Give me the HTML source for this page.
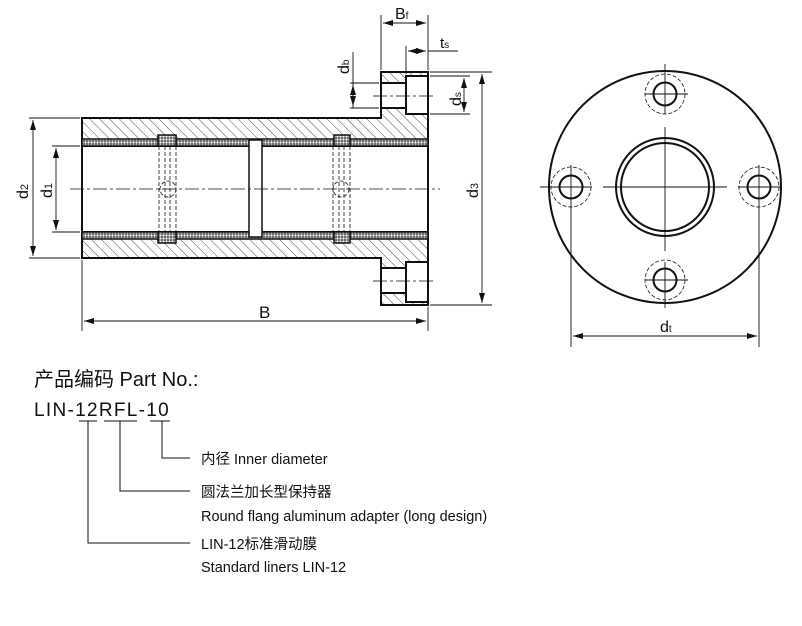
<!DOCTYPE html>
<html><head><meta charset="utf-8"><style>
html,body{margin:0;padding:0;background:#fff;width:802px;height:626px;overflow:hidden}
svg{position:absolute;left:0;top:0}
.t{font-family:"Liberation Sans","Noto Sans CJK SC",sans-serif;fill:#111}
</style></head><body>
<svg width="802" height="626" viewBox="0 0 802 626">
<defs>
<pattern id="h" width="7" height="7" patternUnits="userSpaceOnUse" patternTransform="rotate(-45)">
<line x1="0" y1="0" x2="0" y2="7" stroke="#222" stroke-width="0.8"/></pattern>
<pattern id="d" width="3" height="3" patternUnits="userSpaceOnUse">
<rect width="3" height="3" fill="#555"/><circle cx="1.5" cy="1.5" r="1.1" fill="#fff"/></pattern>
<marker id="a" markerWidth="10" markerHeight="6" refX="10" refY="3" orient="auto-start-reverse" markerUnits="userSpaceOnUse"><path d="M0,0 L10,3 L0,6 z" fill="#111"/></marker>
</defs>
<g stroke="#111" fill="none">
<path d="M82,118 H381 V72 H428 V305 H381 V258 H82 Z" fill="url(#h)" stroke-width="2"/>
<rect x="82" y="146" width="346" height="86" fill="#fff" stroke-width="2"/>
<rect x="82" y="139" width="346" height="7" fill="url(#d)" stroke-width="1.5"/>
<rect x="82" y="232" width="346" height="7" fill="url(#d)" stroke-width="1.5"/>
<rect x="158" y="135" width="18" height="11" fill="url(#d)" stroke-width="1.5"/>
<rect x="334" y="135" width="16" height="11" fill="url(#d)" stroke-width="1.5"/>
<rect x="158" y="232" width="18" height="11" fill="url(#d)" stroke-width="1.5"/>
<rect x="334" y="232" width="16" height="11" fill="url(#d)" stroke-width="1.5"/>
<rect x="249" y="140" width="13" height="97" fill="#fff" stroke-width="1.5"/>
<rect x="406" y="76" width="22" height="38" fill="#fff" stroke-width="2"/>
<rect x="381" y="83" width="25" height="25" fill="#fff" stroke-width="2"/>
<rect x="406" y="262" width="22" height="40" fill="#fff" stroke-width="2"/>
<rect x="381" y="268" width="25" height="25" fill="#fff" stroke-width="2"/>
<line x1="381" y1="72" x2="428" y2="72" stroke-width="2"/>
<g stroke-width="0.8" stroke-dasharray="14,3,3,3">
<line x1="70" y1="189" x2="440" y2="189"/>
<line x1="373" y1="96" x2="436" y2="96"/>
<line x1="373" y1="281" x2="436" y2="281"/>
</g>
<g stroke-width="0.8" stroke-dasharray="4,2">
<line x1="159" y1="146" x2="159" y2="232"/><line x1="165" y1="146" x2="165" y2="232"/>
<line x1="170" y1="146" x2="170" y2="232"/><line x1="176" y1="146" x2="176" y2="232"/>
<line x1="333" y1="146" x2="333" y2="232"/><line x1="339" y1="146" x2="339" y2="232"/>
<line x1="344" y1="146" x2="344" y2="232"/><line x1="350" y1="146" x2="350" y2="232"/>
<circle cx="168" cy="189" r="8"/><circle cx="341" cy="189" r="8"/>
</g>
<g stroke-width="0.9">
<line x1="29" y1="118" x2="80" y2="118"/><line x1="29" y1="258" x2="80" y2="258"/>
<line x1="33" y1="120" x2="33" y2="256" marker-start="url(#a)" marker-end="url(#a)"/>
<line x1="52" y1="146" x2="80" y2="146"/><line x1="52" y1="232" x2="80" y2="232"/>
<line x1="56" y1="148" x2="56" y2="230" marker-start="url(#a)" marker-end="url(#a)"/>
<line x1="430" y1="72" x2="492" y2="72"/><line x1="430" y1="305" x2="492" y2="305"/>
<line x1="482" y1="74" x2="482" y2="303" marker-start="url(#a)" marker-end="url(#a)"/>
<line x1="82" y1="260" x2="82" y2="331"/><line x1="428" y1="307" x2="428" y2="331"/>
<line x1="84" y1="321" x2="426" y2="321" marker-start="url(#a)" marker-end="url(#a)"/>
<line x1="381" y1="15" x2="381" y2="70"/><line x1="428" y1="15" x2="428" y2="70"/>
<line x1="383" y1="23" x2="426" y2="23" marker-start="url(#a)" marker-end="url(#a)"/>
<line x1="406" y1="46" x2="406" y2="74"/>
<line x1="408" y1="51" x2="426" y2="51" marker-start="url(#a)" marker-end="url(#a)"/>
<line x1="428" y1="51" x2="458" y2="51"/>
<line x1="350" y1="83" x2="379" y2="83"/><line x1="350" y1="108" x2="379" y2="108"/>
<line x1="353" y1="52" x2="353" y2="108"/>
<line x1="353" y1="85" x2="353" y2="106" marker-start="url(#a)" marker-end="url(#a)"/>
<line x1="430" y1="76" x2="470" y2="76"/><line x1="430" y1="114" x2="470" y2="114"/>
<line x1="464" y1="78" x2="464" y2="112" marker-start="url(#a)" marker-end="url(#a)"/>
</g>
<circle cx="665" cy="187" r="116" stroke-width="2"/>
<circle cx="665" cy="187" r="49" stroke-width="2"/>
<circle cx="665" cy="187" r="44" stroke-width="2"/>
<g stroke-width="2">
<circle cx="665" cy="94" r="11.5"/><circle cx="665" cy="280" r="11.5"/>
<circle cx="571" cy="187" r="11.5"/><circle cx="759" cy="187" r="11.5"/>
</g>
<g stroke-width="0.8" stroke-dasharray="4,2">
<circle cx="665" cy="94" r="20"/><circle cx="665" cy="280" r="20"/>
<circle cx="571" cy="187" r="20"/><circle cx="759" cy="187" r="20"/>
</g>
<g stroke-width="0.9">
<line x1="603" y1="187" x2="727" y2="187"/><line x1="665" y1="127" x2="665" y2="251"/>
<line x1="665" y1="64" x2="665" y2="114"/><line x1="645" y1="94" x2="688" y2="94"/>
<line x1="665" y1="262" x2="665" y2="308"/><line x1="645" y1="280" x2="688" y2="280"/>
<line x1="540" y1="187" x2="592" y2="187"/><line x1="571" y1="165" x2="571" y2="347"/>
<line x1="738" y1="187" x2="782" y2="187"/><line x1="759" y1="165" x2="759" y2="347"/>
<line x1="573" y1="336" x2="757" y2="336" marker-start="url(#a)" marker-end="url(#a)"/>
</g>
<g stroke-width="1">
<line x1="79" y1="421" x2="97" y2="421"/><line x1="104" y1="421" x2="137" y2="421"/><line x1="150" y1="421" x2="170" y2="421"/>
<polyline points="162,421 162,458 190,458"/>
<polyline points="120,421 120,491 190,491"/>
<polyline points="88,421 88,543 190,543"/>
</g>
</g>
<g class="t">
<text x="395" y="19" font-size="16">B<tspan font-size="10">f</tspan></text>
<text x="440" y="48" font-size="15">t<tspan font-size="10">s</tspan></text>
<text x="259" y="318" font-size="17">B</text>
<text x="660" y="332" font-size="16">d<tspan font-size="10">t</tspan></text>
<text transform="translate(28,199) rotate(-90)" font-size="16">d<tspan font-size="11">2</tspan></text>
<text transform="translate(52,198) rotate(-90)" font-size="16">d<tspan font-size="11">1</tspan></text>
<text transform="translate(478,198) rotate(-90)" font-size="16">d<tspan font-size="11">3</tspan></text>
<text transform="translate(349,74) rotate(-90)" font-size="16">d<tspan font-size="10">b</tspan></text>
<text transform="translate(461,106) rotate(-90)" font-size="16">d<tspan font-size="10">s</tspan></text>
<text x="34" y="386" font-size="20">产品编码 Part No.:</text>
<text x="34" y="416" font-size="19" letter-spacing="1.3">LIN-12RFL-10</text>
<text x="201" y="464" font-size="14.5">内径 Inner diameter</text>
<text x="201" y="497" font-size="14.5">圆法兰加长型保持器</text>
<text x="201" y="521" font-size="14.5">Round flang aluminum adapter (long design)</text>
<text x="201" y="549" font-size="14.5">LIN-12标准滑动膜</text>
<text x="201" y="572" font-size="14.5">Standard liners LIN-12</text>
</g>
</svg>
</body></html>
